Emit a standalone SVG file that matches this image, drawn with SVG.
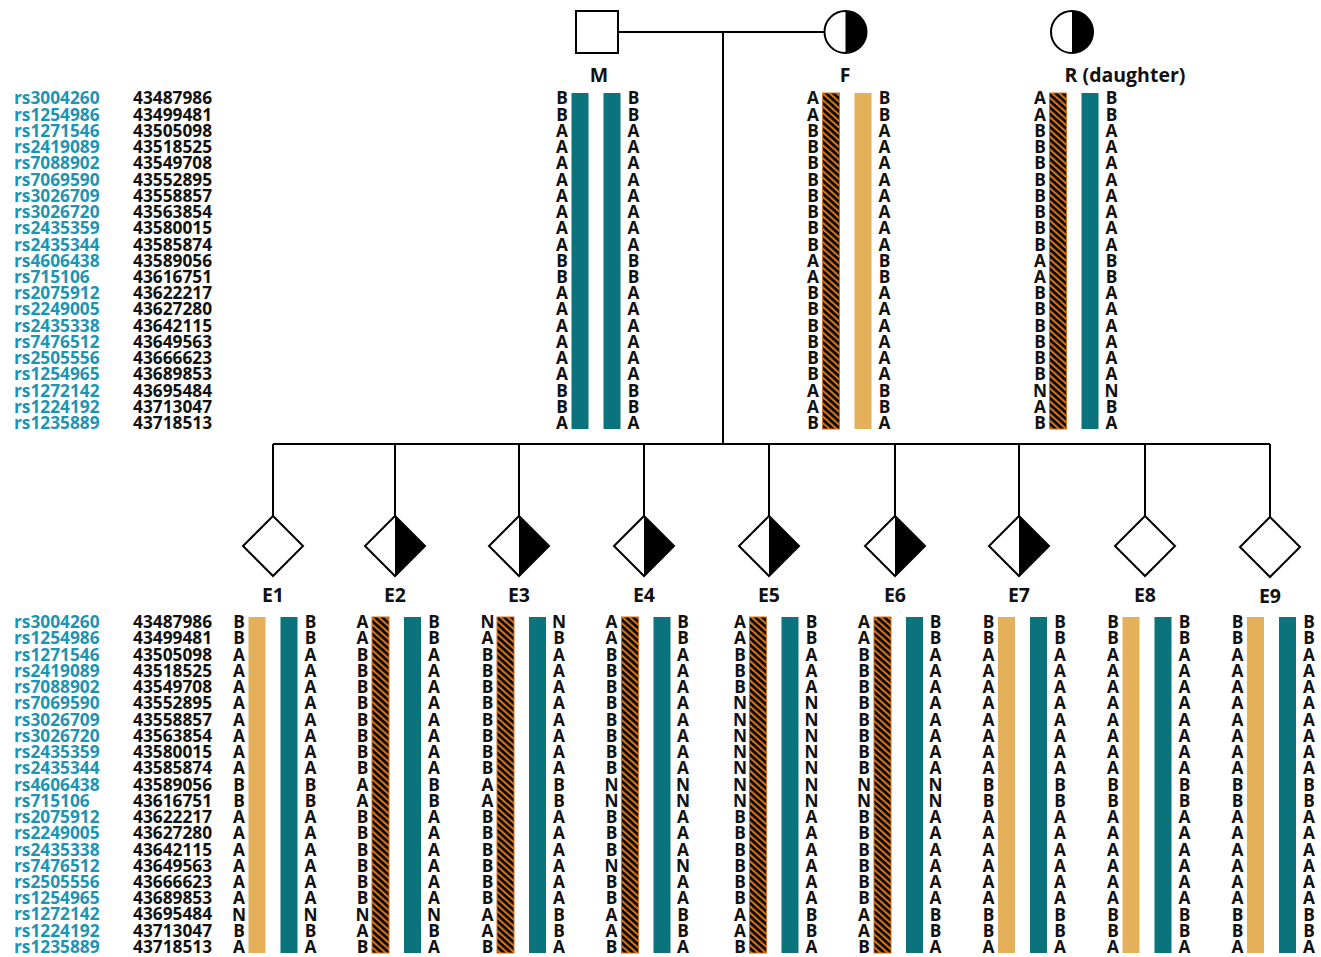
<svg xmlns="http://www.w3.org/2000/svg" xmlns:xlink="http://www.w3.org/1999/xlink" width="1321" height="957" viewBox="0 0 1321 957">
  <style>
    text { font-family: "Open Sans", "Liberation Sans", sans-serif; font-weight: 700; }
    .rs { fill: #1c95b3; font-size: 17.3px; }
    .pos { fill: #111; font-size: 17.3px; }
    .al { fill: #111; font-size: 17.3px; text-anchor: middle; }
    .lbl { fill: #111; font-size: 19.5px; text-anchor: middle; }
    .teal { fill: #0a737b; }
    .gold { fill: #e4b05a; }
    .hatch { fill: url(#hatch); stroke: #d2711f; stroke-width: 1; }
    .sym { fill: #fff; stroke: #000; stroke-width: 2; }
    .half { fill: #000; }
    .line { fill: none; stroke: #000; stroke-width: 2; }
  </style>
  <defs>
    <pattern id="hatch" patternUnits="userSpaceOnUse" width="4.8" height="4.8" patternTransform="rotate(42)">
      <rect width="4.8" height="4.8" fill="#d2711f"/>
      <rect width="4.8" height="2.6" fill="#000"/>
    </pattern>
    <!-- SNP marker names and positions (same list above each generation) -->
    <g id="markers">
      <text class="rs">
        <tspan x="14" y="104.3">rs3004260</tspan><tspan x="14" y="120.5">rs1254986</tspan><tspan x="14" y="136.8">rs1271546</tspan><tspan x="14" y="153">rs2419089</tspan><tspan x="14" y="169.3">rs7088902</tspan><tspan x="14" y="185.5">rs7069590</tspan><tspan x="14" y="201.7">rs3026709</tspan><tspan x="14" y="218">rs3026720</tspan><tspan x="14" y="234.2">rs2435359</tspan><tspan x="14" y="250.5">rs2435344</tspan><tspan x="14" y="266.7">rs4606438</tspan><tspan x="14" y="282.9">rs715106</tspan><tspan x="14" y="299.2">rs2075912</tspan><tspan x="14" y="315.4">rs2249005</tspan><tspan x="14" y="331.7">rs2435338</tspan><tspan x="14" y="347.9">rs7476512</tspan><tspan x="14" y="364.1">rs2505556</tspan><tspan x="14" y="380.4">rs1254965</tspan><tspan x="14" y="396.6">rs1272142</tspan><tspan x="14" y="412.9">rs1224192</tspan><tspan x="14" y="429.1">rs1235889</tspan>
      </text>
      <text class="pos">
        <tspan x="133" y="104.3">43487986</tspan><tspan x="133" y="120.5">43499481</tspan><tspan x="133" y="136.8">43505098</tspan><tspan x="133" y="153">43518525</tspan><tspan x="133" y="169.3">43549708</tspan><tspan x="133" y="185.5">43552895</tspan><tspan x="133" y="201.7">43558857</tspan><tspan x="133" y="218">43563854</tspan><tspan x="133" y="234.2">43580015</tspan><tspan x="133" y="250.5">43585874</tspan><tspan x="133" y="266.7">43589056</tspan><tspan x="133" y="282.9">43616751</tspan><tspan x="133" y="299.2">43622217</tspan><tspan x="133" y="315.4">43627280</tspan><tspan x="133" y="331.7">43642115</tspan><tspan x="133" y="347.9">43649563</tspan><tspan x="133" y="364.1">43666623</tspan><tspan x="133" y="380.4">43689853</tspan><tspan x="133" y="396.6">43695484</tspan><tspan x="133" y="412.9">43713047</tspan><tspan x="133" y="429.1">43718513</tspan>
      </text>
    </g>
  </defs>

  <rect width="1321" height="957" fill="#fff"/>

  <!-- marker tables -->
  <use id="markers-parents" xlink:href="#markers"/>
  <use id="markers-offspring" xlink:href="#markers" transform="translate(0 523.9)"/>

  <!-- pedigree lines -->
  <g id="connectors">
    <path class="line" d="M618 32 H824.5"/>
    <path class="line" d="M723 32 V444"/>
    <path class="line" d="M273 444 H1270"/>
    <path class="line" d="M273 444 V516 M395 444 V516 M519 444 V516 M644 444 V516 M769 444 V516 M895 444 V516 M1019 444 V516 M1145 444 V516 M1270 444 V517"/>
  </g>

  <!-- parents and sibling -->
  <g id="node-M">
    <rect class="sym" x="576" y="11" width="42" height="42"/>
    <text class="lbl" x="599" y="82">M</text>
    <rect class="teal" x="571.5" y="93" width="17" height="336"/>
    <rect class="teal" x="603.5" y="93" width="17" height="336"/>
    <text class="al" transform="translate(562 0)" x="0 0 0 0 0 0 0 0 0 0 0 0 0 0 0 0 0 0 0 0 0" y="104.3 120.5 136.8 153 169.3 185.5 201.7 218 234.2 250.5 266.7 282.9 299.2 315.4 331.7 347.9 364.1 380.4 396.6 412.9 429.1">BBAAAAAAAABBAAAAAABBA</text>
    <text class="al" transform="translate(633.5 0)" x="0 0 0 0 0 0 0 0 0 0 0 0 0 0 0 0 0 0 0 0 0" y="104.3 120.5 136.8 153 169.3 185.5 201.7 218 234.2 250.5 266.7 282.9 299.2 315.4 331.7 347.9 364.1 380.4 396.6 412.9 429.1">BBAAAAAAAABBAAAAAABBA</text>
  </g>

  <g id="node-F">
    <circle class="sym" cx="845.5" cy="32" r="21"/>
    <path class="half" d="M845.5 11 A21 21 0 0 1 845.5 53 Z"/>
    <text class="lbl" x="845" y="82">F</text>
    <rect class="hatch" x="822.5" y="93" width="17" height="336"/>
    <rect class="gold" x="854.5" y="93" width="17" height="336"/>
    <text class="al" transform="translate(813 0)" x="0 0 0 0 0 0 0 0 0 0 0 0 0 0 0 0 0 0 0 0 0" y="104.3 120.5 136.8 153 169.3 185.5 201.7 218 234.2 250.5 266.7 282.9 299.2 315.4 331.7 347.9 364.1 380.4 396.6 412.9 429.1">AABBBBBBBBAABBBBBBAAB</text>
    <text class="al" transform="translate(884.5 0)" x="0 0 0 0 0 0 0 0 0 0 0 0 0 0 0 0 0 0 0 0 0" y="104.3 120.5 136.8 153 169.3 185.5 201.7 218 234.2 250.5 266.7 282.9 299.2 315.4 331.7 347.9 364.1 380.4 396.6 412.9 429.1">BBAAAAAAAABBAAAAAABBA</text>
  </g>

  <g id="node-R">
    <circle class="sym" cx="1072" cy="32" r="21"/>
    <path class="half" d="M1072 11 A21 21 0 0 1 1072 53 Z"/>
    <text class="lbl" x="1125" y="82">R (daughter)</text>
    <rect class="hatch" x="1049.5" y="93" width="17" height="336"/>
    <rect class="teal" x="1081.5" y="93" width="17" height="336"/>
    <text class="al" transform="translate(1040 0)" x="0 0 0 0 0 0 0 0 0 0 0 0 0 0 0 0 0 0 0 0 0" y="104.3 120.5 136.8 153 169.3 185.5 201.7 218 234.2 250.5 266.7 282.9 299.2 315.4 331.7 347.9 364.1 380.4 396.6 412.9 429.1">AABBBBBBBBAABBBBBBNAB</text>
    <text class="al" transform="translate(1111.5 0)" x="0 0 0 0 0 0 0 0 0 0 0 0 0 0 0 0 0 0 0 0 0" y="104.3 120.5 136.8 153 169.3 185.5 201.7 218 234.2 250.5 266.7 282.9 299.2 315.4 331.7 347.9 364.1 380.4 396.6 412.9 429.1">BBAAAAAAAABBAAAAAANBA</text>
  </g>

  <!-- offspring -->
  <g id="node-E1">
    <path class="sym" d="M273 516 L303 546 L273 576 L243 546 Z"/>
    <text class="lbl" x="273" y="602">E1</text>
    <rect class="gold" x="248.5" y="617" width="17" height="336"/>
    <rect class="teal" x="280.5" y="617" width="17" height="336"/>
    <text class="al" transform="translate(239 0)" x="0 0 0 0 0 0 0 0 0 0 0 0 0 0 0 0 0 0 0 0 0" y="628.2 644.4 660.7 676.9 693.2 709.4 725.6 741.9 758.1 774.4 790.6 806.8 823.1 839.3 855.6 871.8 888 904.3 920.5 936.8 953">BBAAAAAAAABBAAAAAANBA</text>
    <text class="al" transform="translate(310.5 0)" x="0 0 0 0 0 0 0 0 0 0 0 0 0 0 0 0 0 0 0 0 0" y="628.2 644.4 660.7 676.9 693.2 709.4 725.6 741.9 758.1 774.4 790.6 806.8 823.1 839.3 855.6 871.8 888 904.3 920.5 936.8 953">BBAAAAAAAABBAAAAAANBA</text>
  </g>

  <g id="node-E2">
    <path class="sym" d="M395 516 L425 546 L395 576 L365 546 Z"/>
    <path class="half" d="M395 516 L425 546 L395 576 Z"/>
    <text class="lbl" x="395" y="602">E2</text>
    <rect class="hatch" x="372" y="617" width="17" height="336"/>
    <rect class="teal" x="404" y="617" width="17" height="336"/>
    <text class="al" transform="translate(362.5 0)" x="0 0 0 0 0 0 0 0 0 0 0 0 0 0 0 0 0 0 0 0 0" y="628.2 644.4 660.7 676.9 693.2 709.4 725.6 741.9 758.1 774.4 790.6 806.8 823.1 839.3 855.6 871.8 888 904.3 920.5 936.8 953">AABBBBBBBBAABBBBBBNAB</text>
    <text class="al" transform="translate(434 0)" x="0 0 0 0 0 0 0 0 0 0 0 0 0 0 0 0 0 0 0 0 0" y="628.2 644.4 660.7 676.9 693.2 709.4 725.6 741.9 758.1 774.4 790.6 806.8 823.1 839.3 855.6 871.8 888 904.3 920.5 936.8 953">BBAAAAAAAABBAAAAAANBA</text>
  </g>

  <g id="node-E3">
    <path class="sym" d="M519 516 L549 546 L519 576 L489 546 Z"/>
    <path class="half" d="M519 516 L549 546 L519 576 Z"/>
    <text class="lbl" x="519" y="602">E3</text>
    <rect class="hatch" x="497" y="617" width="17" height="336"/>
    <rect class="teal" x="529" y="617" width="17" height="336"/>
    <text class="al" transform="translate(487.5 0)" x="0 0 0 0 0 0 0 0 0 0 0 0 0 0 0 0 0 0 0 0 0" y="628.2 644.4 660.7 676.9 693.2 709.4 725.6 741.9 758.1 774.4 790.6 806.8 823.1 839.3 855.6 871.8 888 904.3 920.5 936.8 953">NABBBBBBBBAABBBBBBAAB</text>
    <text class="al" transform="translate(559 0)" x="0 0 0 0 0 0 0 0 0 0 0 0 0 0 0 0 0 0 0 0 0" y="628.2 644.4 660.7 676.9 693.2 709.4 725.6 741.9 758.1 774.4 790.6 806.8 823.1 839.3 855.6 871.8 888 904.3 920.5 936.8 953">NBAAAAAAAABBAAAAAABBA</text>
  </g>

  <g id="node-E4">
    <path class="sym" d="M644 516 L674 546 L644 576 L614 546 Z"/>
    <path class="half" d="M644 516 L674 546 L644 576 Z"/>
    <text class="lbl" x="644" y="602">E4</text>
    <rect class="hatch" x="621.5" y="617" width="17" height="336"/>
    <rect class="teal" x="653.5" y="617" width="17" height="336"/>
    <text class="al" transform="translate(611.5 0)" x="0 0 0 0 0 0 0 0 0 0 0 0 0 0 0 0 0 0 0 0 0" y="628.2 644.4 660.7 676.9 693.2 709.4 725.6 741.9 758.1 774.4 790.6 806.8 823.1 839.3 855.6 871.8 888 904.3 920.5 936.8 953">AABBBBBBBBNNBBBNBBAAB</text>
    <text class="al" transform="translate(683 0)" x="0 0 0 0 0 0 0 0 0 0 0 0 0 0 0 0 0 0 0 0 0" y="628.2 644.4 660.7 676.9 693.2 709.4 725.6 741.9 758.1 774.4 790.6 806.8 823.1 839.3 855.6 871.8 888 904.3 920.5 936.8 953">BBAAAAAAAANNAAANAABBA</text>
  </g>

  <g id="node-E5">
    <path class="sym" d="M769 516 L799 546 L769 576 L739 546 Z"/>
    <path class="half" d="M769 516 L799 546 L769 576 Z"/>
    <text class="lbl" x="769" y="602">E5</text>
    <rect class="hatch" x="749.5" y="617" width="17" height="336"/>
    <rect class="teal" x="781.5" y="617" width="17" height="336"/>
    <text class="al" transform="translate(740 0)" x="0 0 0 0 0 0 0 0 0 0 0 0 0 0 0 0 0 0 0 0 0" y="628.2 644.4 660.7 676.9 693.2 709.4 725.6 741.9 758.1 774.4 790.6 806.8 823.1 839.3 855.6 871.8 888 904.3 920.5 936.8 953">AABBBNNNNNNNBBBBBBAAB</text>
    <text class="al" transform="translate(811.5 0)" x="0 0 0 0 0 0 0 0 0 0 0 0 0 0 0 0 0 0 0 0 0" y="628.2 644.4 660.7 676.9 693.2 709.4 725.6 741.9 758.1 774.4 790.6 806.8 823.1 839.3 855.6 871.8 888 904.3 920.5 936.8 953">BBAAANNNNNNNAAAAAABBA</text>
  </g>

  <g id="node-E6">
    <path class="sym" d="M895 516 L925 546 L895 576 L865 546 Z"/>
    <path class="half" d="M895 516 L925 546 L895 576 Z"/>
    <text class="lbl" x="895" y="602">E6</text>
    <rect class="hatch" x="874" y="617" width="17" height="336"/>
    <rect class="teal" x="906" y="617" width="17" height="336"/>
    <text class="al" transform="translate(864 0)" x="0 0 0 0 0 0 0 0 0 0 0 0 0 0 0 0 0 0 0 0 0" y="628.2 644.4 660.7 676.9 693.2 709.4 725.6 741.9 758.1 774.4 790.6 806.8 823.1 839.3 855.6 871.8 888 904.3 920.5 936.8 953">AABBBBBBBBNNBBBBBBAAB</text>
    <text class="al" transform="translate(935.5 0)" x="0 0 0 0 0 0 0 0 0 0 0 0 0 0 0 0 0 0 0 0 0" y="628.2 644.4 660.7 676.9 693.2 709.4 725.6 741.9 758.1 774.4 790.6 806.8 823.1 839.3 855.6 871.8 888 904.3 920.5 936.8 953">BBAAAAAAAANNAAAAAABBA</text>
  </g>

  <g id="node-E7">
    <path class="sym" d="M1019 516 L1049 546 L1019 576 L989 546 Z"/>
    <path class="half" d="M1019 516 L1049 546 L1019 576 Z"/>
    <text class="lbl" x="1019" y="602">E7</text>
    <rect class="gold" x="998" y="617" width="17" height="336"/>
    <rect class="teal" x="1030" y="617" width="17" height="336"/>
    <text class="al" transform="translate(988.5 0)" x="0 0 0 0 0 0 0 0 0 0 0 0 0 0 0 0 0 0 0 0 0" y="628.2 644.4 660.7 676.9 693.2 709.4 725.6 741.9 758.1 774.4 790.6 806.8 823.1 839.3 855.6 871.8 888 904.3 920.5 936.8 953">BBAAAAAAAABBAAAAAABBA</text>
    <text class="al" transform="translate(1060 0)" x="0 0 0 0 0 0 0 0 0 0 0 0 0 0 0 0 0 0 0 0 0" y="628.2 644.4 660.7 676.9 693.2 709.4 725.6 741.9 758.1 774.4 790.6 806.8 823.1 839.3 855.6 871.8 888 904.3 920.5 936.8 953">BBAAAAAAAABBAAAAAABBA</text>
  </g>

  <g id="node-E8">
    <path class="sym" d="M1145 516 L1175 546 L1145 576 L1115 546 Z"/>
    <text class="lbl" x="1145" y="602">E8</text>
    <rect class="gold" x="1122.5" y="617" width="17" height="336"/>
    <rect class="teal" x="1154.5" y="617" width="17" height="336"/>
    <text class="al" transform="translate(1113 0)" x="0 0 0 0 0 0 0 0 0 0 0 0 0 0 0 0 0 0 0 0 0" y="628.2 644.4 660.7 676.9 693.2 709.4 725.6 741.9 758.1 774.4 790.6 806.8 823.1 839.3 855.6 871.8 888 904.3 920.5 936.8 953">BBAAAAAAAABBAAAAAABBA</text>
    <text class="al" transform="translate(1184.5 0)" x="0 0 0 0 0 0 0 0 0 0 0 0 0 0 0 0 0 0 0 0 0" y="628.2 644.4 660.7 676.9 693.2 709.4 725.6 741.9 758.1 774.4 790.6 806.8 823.1 839.3 855.6 871.8 888 904.3 920.5 936.8 953">BBAAAAAAAABBAAAAAABBA</text>
  </g>

  <g id="node-E9">
    <path class="sym" d="M1270 517 L1300 547 L1270 577 L1240 547 Z"/>
    <text class="lbl" x="1270" y="603">E9</text>
    <rect class="gold" x="1247" y="617" width="17" height="336"/>
    <rect class="teal" x="1279" y="617" width="17" height="336"/>
    <text class="al" transform="translate(1237.5 0)" x="0 0 0 0 0 0 0 0 0 0 0 0 0 0 0 0 0 0 0 0 0" y="628.2 644.4 660.7 676.9 693.2 709.4 725.6 741.9 758.1 774.4 790.6 806.8 823.1 839.3 855.6 871.8 888 904.3 920.5 936.8 953">BBAAAAAAAABBAAAAAABBA</text>
    <text class="al" transform="translate(1309 0)" x="0 0 0 0 0 0 0 0 0 0 0 0 0 0 0 0 0 0 0 0 0" y="628.2 644.4 660.7 676.9 693.2 709.4 725.6 741.9 758.1 774.4 790.6 806.8 823.1 839.3 855.6 871.8 888 904.3 920.5 936.8 953">BBAAAAAAAABBAAAAAABBA</text>
  </g>
</svg>
